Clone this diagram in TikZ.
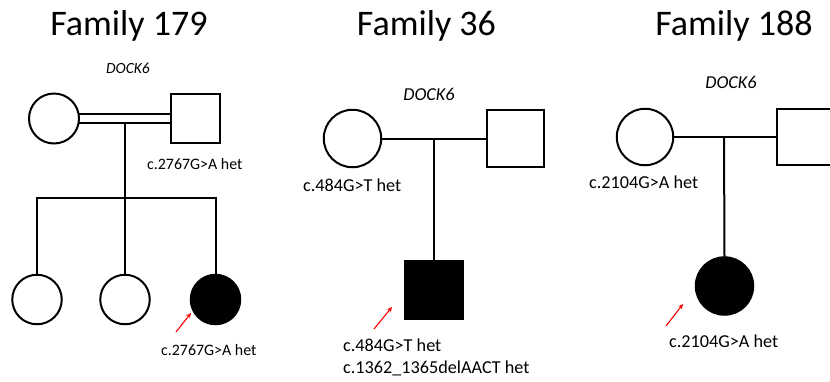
\documentclass[tikz,border=0pt]{standalone}
\usepackage{fontspec}
\setmainfont{Carlito}
\usetikzlibrary{arrows.meta}
\begin{document}
\begin{tikzpicture}[x=1pt,y=-1pt,
  sym/.style={draw=black,line width=2pt,inner sep=0pt,outer sep=0pt},
  fem/.style={sym,circle,fill=white},
  mal/.style={sym,rectangle,fill=white},
  aff/.style={fill=black},
  link/.style={line width=2pt,black},
  title/.style={font=\fontsize{36}{40}\selectfont,inner sep=0pt,anchor=base},
  lblS/.style={font=\fontsize{15.9}{19}\selectfont,inner sep=0pt,anchor=base west},
  lblL/.style={font=\fontsize{18.2}{22}\selectfont,inner sep=0pt,anchor=base west},
  geneS/.style={font=\fontsize{15.5}{19}\selectfont\itshape,inner sep=0pt,anchor=base},
  geneL/.style={font=\fontsize{18.2}{22}\selectfont\itshape,inner sep=0pt,anchor=base},
  proband/.style={red,line width=1.1pt,-{Stealth[length=5pt,width=4.5pt]}}]
\useasboundingbox (0,0) rectangle (830,381);
\clip (0,0) rectangle (830,381);
\fill[white] (0,0) rectangle (830,381);

% ---------- Family 179 ----------
\node[title] (t179) at (129,35) {Family 179};
\node[geneS] (g179) at (128,73) {DOCK6};
\node[fem,minimum size=50pt] (f1) at (54,118.5) {};
\node[mal,minimum size=49.5pt] (m1) at (195.5,118.5) {};
% consanguineous (double) partnership line
\draw[link] (f1.11) -- (f1.11 -| m1.west);
\draw[link] (f1.-11) -- (f1.-11 -| m1.west);
\coordinate (d1) at (125,123);
\coordinate (s1) at (125,198);
\node[fem,minimum size=49.5pt] (k1) at (37,299.5) {};
\node[fem,minimum size=49.5pt] (k2) at (125,299.5) {};
\node[fem,aff,minimum size=49.5pt] (k3) at (215.5,299.5) {};
\draw[link] (d1) -- (s1);
\draw[link] (k1.north) |- (s1) -| (k3.north);
\draw[link] (s1) -- (k2.north);
\node[lblS] (l1) at (147,169) {c.2767G>A het};
\node[lblS] (l2) at (161,355) {c.2767G>A het};
\coordinate (a1) at (176,332);
\coordinate (b1) at (191,313);
\draw[proband] (a1) -- (b1);

% ---------- Family 36 ----------
\node[title] (t36) at (426.5,35) {Family 36};
\node[geneL] (g36) at (429,100.5) {DOCK6};
\node[fem,minimum size=57.5pt] (f2) at (352.5,138.5) {};
\node[mal,minimum size=57.5pt] (m2) at (515.5,138.5) {};
\draw[link] (f2.east) -- (m2.west);
\coordinate (d2) at (434,138.5);
\node[mal,aff,minimum size=58pt] (p2) at (434,289.5) {};
\draw[link] (d2) -- (p2.north);
\node[lblL] (l3) at (303,191.5) {c.484G>T het};
\node[lblL] (l4) at (343,351) {c.484G>T het};
\node[lblL] (l5) at (343,373) {c.1362\_1365delAACT het};
\coordinate (a2) at (374,329);
\coordinate (b2) at (392,307);
\draw[proband] (a2) -- (b2);

% ---------- Family 188 ----------
\node[title] (t188) at (734,35) {Family 188};
\node[geneL] (g188) at (731,88) {DOCK6};
\node[fem,minimum size=56.5pt] (f3) at (645,137) {};
\node[mal,minimum size=56pt] (m3) at (805,136.5) {};
\draw[link] (f3.east) -- (m3.west |- f3.east);
\coordinate (d3) at (724,137);
\node[fem,aff,minimum size=57.5pt] (p3) at (724.5,286) {};
\draw[link] (d3) -- (p3.north);
\node[lblL] (l6) at (589,188) {c.2104G>A het};
\node[lblL] (l7) at (669,347) {c.2104G>A het};
\coordinate (a3) at (666,326);
\coordinate (b3) at (683,304);
\draw[proband] (a3) -- (b3);
\end{tikzpicture}
\end{document}
